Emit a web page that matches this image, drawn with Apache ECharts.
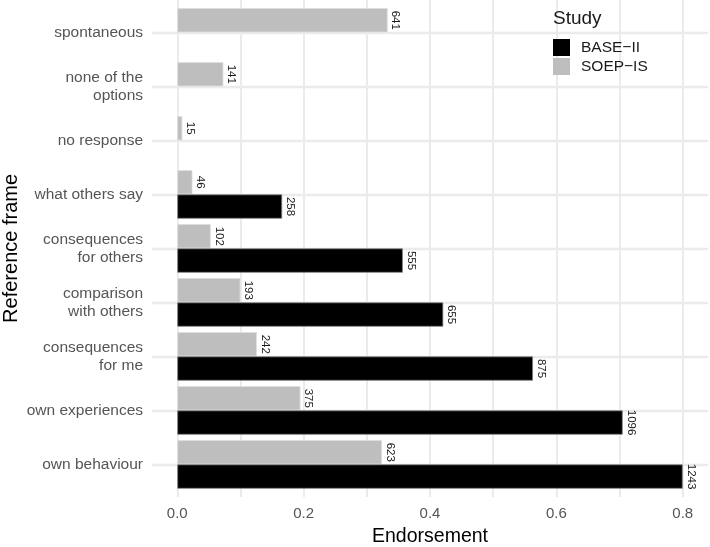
<!DOCTYPE html>
<html>
<head>
<meta charset="utf-8">
<script src="https://cdn.jsdelivr.net/npm/echarts@6/dist/echarts.min.js"></script>
<style>html,body{margin:0;padding:0;background:#fff}#c{width:710px;height:547px}</style>
</head>
<body>
<div id="c"></div>
<script>
const categories = ['spontaneous','none of the\noptions','no response','what others say','consequences\nfor others','comparison\nwith others','consequences\nfor me','own experiences','own behaviour'];
const baseShare = [null,null,null,0.166,0.357,0.421,0.563,0.705,0.800];
const baseCount = [null,null,null,258,555,655,875,1096,1243];
const soepShare = [0.333,0.073,0.008,0.024,0.053,0.100,0.126,0.195,0.324];
const soepCount = [641,141,15,46,102,193,242,375,623];
const xTicks = [0,0.2,0.4,0.6,0.8];
const xGrid = [0,0.1,0.2,0.3,0.4,0.5,0.6,0.7,0.8];
const yGrid = [0,1,2,3,4,5,6,7,8];
const studies = ['BASE\u2212II','SOEP\u2212IS'];

const FONT = 'Liberation Sans, Arial, sans-serif';
const chart = echarts.init(document.getElementById('c'), null, {renderer:'canvas'});
function lbl(counts){
  return {show:true, position:'right', distance:2, rotate:-90, align:'center', verticalAlign:'bottom',
    fontSize:11.5, color:'#1a1a1a', fontFamily:FONT,
    formatter:p=>counts[p.dataIndex]==null?'':String(counts[p.dataIndex])};
}
chart.setOption({
  backgroundColor:'#fff',
  animation:false,
  textStyle:{fontFamily:FONT},
  title:{text:'Study', left:553, top:9, padding:0, textStyle:{fontSize:19, fontWeight:'normal', color:'#1a1a1a', fontFamily:FONT}},
  legend:{data:studies, orient:'vertical', left:553, top:39, padding:0, itemWidth:17, itemHeight:17, itemGap:2,
    icon:'rect', itemStyle:{borderWidth:0},
    textStyle:{fontSize:15.5, color:'#1a1a1a', fontFamily:FONT, padding:[0,0,0,6]}},
  grid:[
    {left:152, right:2, top:5.4, height:486, containLabel:false, outerBoundsMode:'none'},
    {left:152, right:2, top:0, height:497, containLabel:false, outerBoundsMode:'none'}
  ],
  xAxis:[
    {gridIndex:0, type:'value', min:-0.04, max:0.84,
      axisLine:{show:false}, axisTick:{show:false}, axisLabel:{show:false}, splitLine:{show:false}},
    {gridIndex:1, type:'value', min:-0.04, max:0.84,
      axisLine:{show:false}, axisTick:{show:false, customValues:xGrid},
      axisLabel:{customValues:xTicks, formatter:v=>v.toFixed(1), fontSize:15, color:'#555', margin:9, fontFamily:FONT},
      splitLine:{show:true, lineStyle:{color:'#ebebeb', width:2}},
      name:'Endorsement', nameLocation:'middle', nameGap:30, nameMoveOverlap:false,
      nameTextStyle:{fontSize:19.5, color:'#000', fontFamily:FONT}}
  ],
  yAxis:[
    {gridIndex:0, type:'category', inverse:true, data:categories,
      axisLine:{show:false}, axisTick:{show:false}, splitLine:{show:false},
      axisLabel:{fontSize:15.5, color:'#555', lineHeight:18, margin:9, fontFamily:FONT},
      name:'Reference frame', nameLocation:'middle', nameGap:131, nameMoveOverlap:false,
      nameTextStyle:{fontSize:20, color:'#000', fontFamily:FONT}},
    {gridIndex:1, type:'value', inverse:true, min:-0.6, max:8.6,
      axisLine:{show:false}, axisLabel:{show:false}, axisTick:{show:false, customValues:yGrid},
      splitLine:{show:true, lineStyle:{color:'#ebebeb', width:2.4}}}
  ],
  series:[
    {name:studies[1], type:'bar', xAxisIndex:0, yAxisIndex:0, data:soepShare, barWidth:24.3, barGap:'0%',
      itemStyle:{color:'#bebebe', borderColor:'#dedede', borderWidth:0.8}, label:lbl(soepCount)},
    {name:studies[0], type:'bar', xAxisIndex:0, yAxisIndex:0, data:baseShare, barWidth:24.3, barGap:'0%',
      itemStyle:{color:'#000000', borderColor:'#808080', borderWidth:0.8}, label:lbl(baseCount)}
  ]
});
</script>
</body>
</html>
